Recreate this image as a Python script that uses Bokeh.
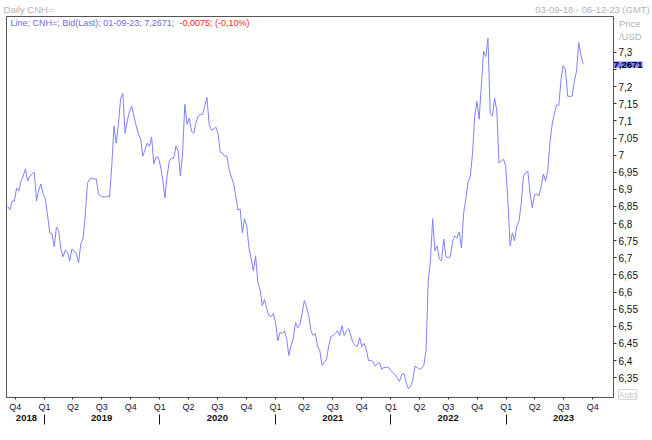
import pandas as pd
from bokeh.plotting import figure
from bokeh.models import Range1d, FixedTicker, LinearAxis, Label
from bokeh.embed import file_html
from bokeh.resources import INLINE

# ---- data (weekly closes, CNH= bid) ----
cnh = [
    6.850, 6.840, 6.866, 6.866, 6.904, 6.895, 6.924, 6.939, 6.960, 6.924,
    6.939, 6.945, 6.950, 6.866, 6.898, 6.916, 6.886, 6.872, 6.822, 6.773,
    6.770, 6.732, 6.790, 6.779, 6.726, 6.703, 6.723, 6.717, 6.691, 6.726,
    6.720, 6.712, 6.686, 6.741, 6.755, 6.822, 6.918, 6.930, 6.933, 6.930,
    6.930, 6.886, 6.881, 6.878, 6.878, 6.881, 6.878, 6.968, 7.084, 7.035,
    7.090, 7.166, 7.180, 7.064, 7.099, 7.128, 7.143, 7.114, 7.087, 7.061,
    7.049, 6.997, 7.015, 7.035, 7.026, 7.052, 6.974, 6.994, 6.994, 6.968,
    6.930, 6.875, 6.939, 6.983, 6.991, 6.991, 7.026, 7.012, 6.939, 7.006,
    7.148, 7.090, 7.108, 7.070, 7.064, 7.093, 7.114, 7.119, 7.119, 7.143,
    7.169, 7.090, 7.073, 7.076, 7.082, 7.064, 7.009, 7.006, 6.997, 6.997,
    6.959, 6.936, 6.918, 6.881, 6.840, 6.843, 6.773, 6.814, 6.793, 6.729,
    6.697, 6.662, 6.706, 6.627, 6.607, 6.560, 6.578, 6.552, 6.531, 6.528,
    6.537, 6.511, 6.458, 6.482, 6.479, 6.487, 6.464, 6.415, 6.444, 6.464,
    6.511, 6.496, 6.505, 6.537, 6.575, 6.557, 6.531, 6.487, 6.473, 6.479,
    6.441, 6.429, 6.386, 6.394, 6.403, 6.441, 6.470, 6.473, 6.479, 6.487,
    6.473, 6.502, 6.473, 6.485, 6.493, 6.473, 6.452, 6.444, 6.441, 6.467,
    6.441, 6.450, 6.432, 6.400, 6.400, 6.397, 6.383, 6.391, 6.394, 6.374,
    6.380, 6.380, 6.380, 6.371, 6.365, 6.359, 6.348, 6.339, 6.359, 6.362,
    6.336, 6.318, 6.324, 6.342, 6.383, 6.380, 6.374, 6.377, 6.386, 6.429,
    6.633, 6.691, 6.814, 6.720, 6.735, 6.697, 6.691, 6.755, 6.703, 6.700,
    6.703, 6.747, 6.764, 6.758, 6.776, 6.729, 6.831, 6.872, 6.921, 6.939,
    7.003, 7.114, 7.157, 7.105, 7.204, 7.303, 7.288, 7.341, 7.122, 7.114,
    7.166, 7.128, 6.977, 6.983, 6.988, 6.968, 6.866, 6.735, 6.773, 6.750,
    6.793, 6.808, 6.857, 6.939, 6.948, 6.953, 6.889, 6.846, 6.884, 6.886,
    6.881, 6.907, 6.945, 6.924, 6.953, 7.038, 7.090, 7.122, 7.146, 7.146,
    7.221, 7.262, 7.250, 7.172, 7.172, 7.172, 7.215, 7.245, 7.329, 7.291,
    7.2671,
]
last_date = "2023-09-01"
axis_start = "2018-09-03"
axis_end = "2023-12-06"
price_low, price_high = 6.292, 7.405

price_ticks = [6.35, 6.4, 6.45, 6.5, 6.55, 6.6, 6.65, 6.7, 6.75, 6.8,
               6.85, 6.9, 6.95, 7.0, 7.05, 7.1, 7.15, 7.2, 7.25, 7.3]
hidden_ticks = [7.25]          # covered by the last-value marker

quarter_starts = ["2018-10-01", "2019-01-01", "2019-04-01", "2019-07-01", "2019-10-01",
                  "2020-01-01", "2020-04-01", "2020-07-01", "2020-10-01",
                  "2021-01-01", "2021-04-01", "2021-07-01", "2021-10-01",
                  "2022-01-01", "2022-04-01", "2022-07-01", "2022-10-01",
                  "2023-01-01", "2023-04-01", "2023-07-01", "2023-10-01"]
quarter_labels = ["Q4", "Q1", "Q2", "Q3", "Q4", "Q1", "Q2", "Q3", "Q4",
                  "Q1", "Q2", "Q3", "Q4", "Q1", "Q2", "Q3", "Q4",
                  "Q1", "Q2", "Q3", "Q4"]
year_labels = ["2018", "2019", "2020", "2021", "2022", "2023"]
year_centers = ["2018-11-05", "2019-07-01", "2020-07-01", "2021-07-01", "2022-07-01", "2023-07-01"]
year_starts = ["2019-01-01", "2020-01-01", "2021-01-01", "2022-01-01", "2023-01-01"]

chart_title = "Daily CNH="
date_span = "03-09-18 - 06-12-23 (GMT)"
unit_caption = "\n\nPrice\n/USD"
auto_text = "Auto"
legend_main = "Line; CNH=; Bid(Last); 01-09-23; 7,2671;"
legend_change = "-0,0075; (-0,10%)"
last_value = cnh[-1]
last_label = "7,2671"

# ---- build ----
dates = pd.date_range(end=last_date, periods=len(cnh), freq="W-FRI")


def ms(s):
    return int(pd.Timestamp(s).value // 10**6)


def fmt(v):
    return ("%.2f" % v).rstrip("0").rstrip(".").replace(".", ",")


FONT = "Liberation Sans"
W, H = 652, 440
BT, BB, BL, BR = 15, 43, 6, 39
FW, FH = W - BL - BR, H - BT - BB

x0, x1 = ms(axis_start), ms(axis_end)


def x_at(px):   # data x at a pixel offset from the frame's left edge
    return int(x0 + (x1 - x0) * px / FW)


p = figure(width=W, height=H, output_backend="svg", toolbar_location=None,
           x_axis_type="datetime", y_axis_location="right",
           x_range=Range1d(pd.Timestamp(axis_start), pd.Timestamp(axis_end)),
           y_range=Range1d(price_low, price_high),
           min_border_top=BT, min_border_bottom=BB, min_border_left=BL, min_border_right=BR)
p.background_fill_color = "white"
p.border_fill_color = "white"
p.outline_line_color = "#555555"
p.outline_line_width = 1
p.xgrid.visible = False
p.ygrid.visible = False

p.line(dates, cnh, line_color="#8080ff", line_width=1)


def plain(ax):
    ax.axis_line_color = None
    ax.major_tick_line_color = None
    ax.minor_tick_line_color = None
    ax.major_tick_in = 0
    ax.major_tick_out = 0
    ax.major_label_text_font = FONT


gray = "#b4b4b4"

# quarter axis
xa = p.xaxis[0]
xa.ticker = FixedTicker(ticks=[ms(d) for d in quarter_starts], minor_ticks=[])
xa.major_label_overrides = {ms(d): l for d, l in zip(quarter_starts, quarter_labels)}
xa.axis_line_color = "#555555"
xa.major_tick_in = 0
xa.major_tick_out = 2
xa.major_tick_line_color = "#333333"
xa.minor_tick_line_color = None
xa.major_label_standoff = 2
xa.major_label_text_font = FONT
xa.major_label_text_font_size = "9px"
xa.major_label_text_color = "#111133"

# year axis
ya2 = LinearAxis(ticker=FixedTicker(ticks=[ms(d) for d in year_centers],
                                    minor_ticks=[ms(d) for d in year_starts]))
ya2.major_label_overrides = {ms(d): l for d, l in zip(year_centers, year_labels)}
plain(ya2)
ya2.minor_tick_in = 0
ya2.minor_tick_out = 10
ya2.minor_tick_line_color = "#111111"
ya2.minor_tick_line_width = 1
ya2.major_label_standoff = -10
ya2.major_label_text_font_size = "9.5px"
ya2.major_label_text_font_style = "bold"
ya2.major_label_text_color = "#111111"
p.add_layout(ya2, "below")

# price axis (right)
ra = p.yaxis[0]
ra.ticker = FixedTicker(ticks=price_ticks, minor_ticks=[])
ra.major_label_overrides = {v: ("" if v in hidden_ticks else fmt(v)) for v in price_ticks}
ra.axis_line_color = "#555555"
ra.major_tick_in = 0
ra.major_tick_out = 3
ra.major_tick_line_color = "#333333"
ra.minor_tick_line_color = None
ra.major_label_standoff = 2
ra.major_label_text_font = FONT
ra.major_label_text_font_size = "10px"
ra.major_label_text_color = "#111111"
if "axis_label_align" in LinearAxis.properties():
    ra.axis_label = unit_caption
    ra.axis_label_align = "end"
    ra.axis_label_orientation = "horizontal"
    ra.axis_label_standoff = -22
    ra.axis_label_text_font = FONT
    ra.axis_label_text_font_size = "9.5px"
    ra.axis_label_text_font_style = "normal"
    ra.axis_label_text_line_height = 1.2
    ra.axis_label_text_color = gray

# header texts (axis on top, no line or ticks)
title_x, span_x = x_at(22), x_at(586)
ta = LinearAxis(ticker=FixedTicker(ticks=[title_x, span_x], minor_ticks=[]))
plain(ta)
ta.major_label_overrides = {title_x: chart_title, span_x: date_span}
ta.major_label_standoff = 2
ta.major_label_text_font_size = "9.5px"
ta.major_label_text_color = gray
p.add_layout(ta, "above")

# last-value marker and "Auto" box (labels in the bottom panel, drawn upward)
p.add_layout(Label(x=FW, y=365, x_units="screen", y_units="screen", text=last_label,
                   text_font=FONT, text_font_size="9.5px", text_font_style="bold",
                   text_color="#000000", text_baseline="middle",
                   background_fill_color="#8080ff"), "below")
p.add_layout(Label(x=FW + 5, y=45, x_units="screen", y_units="screen", text=auto_text,
                   text_font=FONT, text_font_size="9px", text_color="#c8c8c8",
                   text_baseline="middle", border_line_color="#d8d8d8",
                   background_fill_color="white"), "below")

# legend line inside the frame
p.add_layout(Label(x=4, y=FH - 7, x_units="screen", y_units="screen", text=legend_main,
                   text_font=FONT, text_font_size="9px", text_color="#6c6ce0",
                   text_baseline="middle"))
p.add_layout(Label(x=173, y=FH - 7, x_units="screen", y_units="screen", text=legend_change,
                   text_font=FONT, text_font_size="9px", text_color="#ff1a1a",
                   text_baseline="middle"))

open("out.html", "w").write(file_html(p, INLINE))
